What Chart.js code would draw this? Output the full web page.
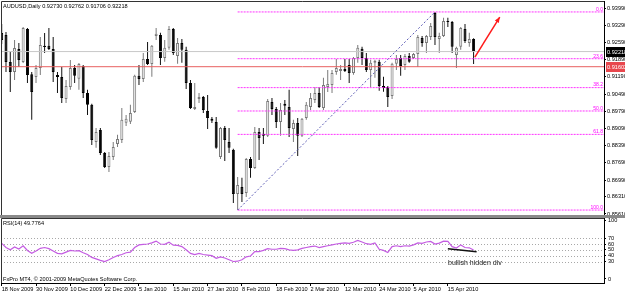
<!DOCTYPE html>
<html>
<head>
<meta charset="utf-8">
<script src="https://cdn.jsdelivr.net/npm/chart.js@4.4.0/dist/chart.umd.min.js"></script>
<style>
  body { margin: 0; background: #fff; width: 625px; height: 292px; overflow: hidden; position: relative; }
  canvas { position: absolute; left: 0; }
  #price { top: 0; }
  #sep { position: absolute; left: 0; top: 215px; width: 625px; height: 3px; background: #8a8a8a; }
  #rsi { top: 218px; }
</style>
</head>
<body>
<canvas id="price" width="625" height="215"></canvas>
<div id="sep"></div>
<canvas id="rsi" width="625" height="74"></canvas>
<script>
// daily AUDUSD candles, one per bar (bar 1 = 18 Nov 2009)
const opens  = [.9297,.9289,.9179,.9139,.9232,.9179,.9314,.9130,.9118,.9155, .9245,.9245,.9232,.9126,.9118,.9029,.9078,.9155,.9111,.9163, .9053,.9005,.8854,.8903,.8809,.8752,.8793,.8846,.8862,.8932, .8936,.8976,.9123,.9110,.9192,.9171,.9285,.9289,.9196,.9237, .9314,.9204,.9257,.9229,.9094,.8988,.9029,.9037,.8980,.8948, .8935,.8793,.8911,.8854,.8822,.8642,.8671,.8646,.8785,.8748, .8895,.8887,.8879,.9017,.8988,.8935,.9009,.8996,.8907,.8931, .8879,.8952,.8996,.9025,.9053,.8992,.9078,.9086,.9139,.9143, .9151,.9167,.9135,.9196,.9233,.9196,.9147,.9176,.9180,.9082, .9078,.9041,.9172,.9196,.9167,.9204,.9196,.9212,.9277,.9257, .9281,.9379,.9273,.9285,.9346,.9342,.9208,.9241,.9314,.9257, .9273];
const highs  = [.9334,.9301,.9220,.9269,.9257,.9322,.9318,.9139,.9167,.9281, .9297,.9318,.9281,.9139,.9159,.9106,.9187,.9167,.9175,.9167, .9066,.9009,.8911,.8911,.8813,.8813,.8854,.8883,.8992,.8964, .9005,.9127,.9167,.9216,.9261,.9249,.9318,.9298,.9269,.9326, .9318,.9277,.9273,.9241,.9106,.9094,.9053,.9041,.9045,.8956, .8956,.8915,.8919,.8911,.8826,.8712,.8708,.8789,.8793,.8915, .8911,.8911,.9029,.9033,.8996,.9013,.9025,.9066,.8944,.8952, .8952,.9017,.9053,.9078,.9078,.9115,.9147,.9147,.9192,.9167, .9192,.9192,.9200,.9249,.9241,.9216,.9188,.9188,.9188,.9119, .9082,.9176,.9208,.9208,.9212,.9216,.9216,.9289,.9285,.9289, .9338,.9383,.9298,.9359,.9359,.9346,.9241,.9322,.9334,.9298, .9276];
const lows   = [.9253,.9139,.9057,.9106,.9159,.9175,.9094,.8944,.9094,.9126, .9216,.9228,.9098,.9053,.9013,.9013,.9066,.9094,.9066,.9033, .8964,.8842,.8830,.8801,.8748,.8732,.8781,.8834,.8850,.8919, .8927,.8972,.9086,.9098,.9167,.9119,.9269,.9167,.9180,.9229, .9208,.9172,.9176,.9070,.8988,.8984,.9013,.8972,.8907,.8931, .8826,.8785,.8777,.8809,.8606,.8577,.8610,.8630,.8708,.8744, .8781,.8846,.8874,.8964,.8911,.8879,.8964,.8874,.8854,.8797, .8874,.8944,.8984,.9013,.8992,.8984,.9057,.9053,.9127,.9106, .9139,.9094,.9127,.9176,.9167,.9139,.9078,.9115,.9062,.9058, .8996,.9029,.9147,.9123,.9147,.9176,.9192,.9159,.9241,.9216, .9269,.9249,.9216,.9281,.9322,.9216,.9155,.9229,.9257,.9241, .9171];
const closes = [.9269,.9179,.9139,.9236,.9187,.9318,.9126,.9057,.9155,.9248, .9240,.9232,.9139,.9118,.9033,.9082,.9155,.9123,.9171,.9053, .9005,.8862,.8895,.8809,.8752,.8797,.8834,.8866,.8944,.8948, .8972,.9123,.9110,.9192,.9171,.9245,.9294,.9196,.9237,.9314, .9216,.9257,.9229,.9094,.8992,.8996,.9037,.8984,.8952,.8940, .8830,.8911,.8862,.8830,.8642,.8679,.8642,.8785,.8748,.8895, .8870,.8879,.9021,.8988,.8935,.8984,.9001,.8911,.8931,.8879, .8948,.9005,.9033,.9053,.8996,.9086,.9090,.9135,.9155,.9151, .9143,.9135,.9196,.9237,.9196,.9147,.9176,.9184,.9082,.9074, .9037,.9172,.9192,.9163,.9204,.9180,.9212,.9281,.9257,.9285, .9326,.9281,.9285,.9346,.9342,.9241,.9237,.9318,.9265,.9273, .9222];
const rsiValues = [61,54,50,55,51.5,57,49,44,48,52.6, 54,52,48,44,43,46,49,48,48.5,45, 42,37,34.5,32,30,33,37,40,42,45, 46,54,58.5,59.5,60,62,65,60,59.5,63, 58,57.5,55.5,50,44,42,44,42,41,40, 35.5,38,36,33,30,30.5,33,38,39.5,47, 47,49,52,51,51,52.5,52,50,49,50, 52.5,54,55.5,56.5,54,55.5,57,58.5,60,61, 62,61,63,66,63.5,60.5,59.5,62,51,49, 45.5,55.5,57,55.5,57,56.5,58.5,62,61,63.5, 64.5,60,61.5,65,64.5,55.5,53,58.5,54,53.5, 49.7764];

const dateBars   = [1, 9, 17, 25, 33, 41, 49, 57, 65, 73, 81, 89, 97, 105];
const dateLabels = ['18 Nov 2009','30 Nov 2009','10 Dec 2009','22 Dec 2009','5 Jan 2010','15 Jan 2010','27 Jan 2010','8 Feb 2010','18 Feb 2010','2 Mar 2010','12 Mar 2010','24 Mar 2010','5 Apr 2010','15 Apr 2010'];
const priceTicks = [0.93990,0.93290,0.92590,0.91890,0.91190,0.90490,0.89790,0.89090,0.88390,0.87690,0.86990,0.86310,0.85610];
const rsiTicks = [100, 70, 60, 50, 40, 30, 0];
const rsiLevels = [70, 60, 50, 40, 30];

const title = 'AUDUSD,Daily 0.92730 0.92762 0.91706 0.92218';
const bidPrice = 0.92218;
const redPrice = 0.91602;
const fibHigh = 0.9383, fibLow = 0.8577, fibFromBar = 56, fibHighBar = 102;
const fibLevels = [0, 23.6, 38.2, 50, 61.8, 100];
const arrowFrom = { x: 111.3, y: 0.9199 }, arrowTo = { x: 117.1, y: 0.9362 };
const divLine = [{ x: 105, y: 52 }, { x: 111.7, y: 46.8 }];

const X_MIN = 0.837, X_MAX = 141.4;
const P_MIN = 0.85569, P_MAX = 0.94275;
const R_MIN = -6.86, R_MAX = 104.6;

const FONT = '"Liberation Sans", Arial, sans-serif';
Chart.defaults.font.family = FONT;
Chart.defaults.font.size = 5.6;
Chart.defaults.color = '#000';

const up = closes.map((c, i) => c >= opens[i]);
const barX = opens.map((_, i) => i + 1);

const zeroPad = (s) => { s.paddingLeft = 0; s.paddingRight = 0; s.paddingTop = 0; s.paddingBottom = 0; };

const fibSets = fibLevels.map(l => {
  const p = fibHigh - (fibHigh - fibLow) * l / 100;
  return {
    type: 'line', data: [{ x: fibFromBar, y: p }, { x: X_MAX, y: p }],
    borderColor: '#ff33ff', borderWidth: 1, borderDash: [2, 1], pointRadius: 0, order: 1
  };
});

const priceDecor = {
  id: 'priceDecor',
  afterDraw(chart) {
    const { ctx, chartArea: a, scales: { x, y } } = chart;
    ctx.save();
    ctx.strokeStyle = '#333';
    ctx.lineWidth = 1;
    ctx.beginPath();
    ctx.moveTo(a.left + 0.5, a.bottom);
    ctx.lineTo(a.left + 0.5, a.top + 0.5);
    ctx.lineTo(a.right, a.top + 0.5);
    ctx.stroke();

    ctx.font = '5.6px ' + FONT;
    ctx.fillStyle = '#000';
    ctx.textBaseline = 'middle';
    ctx.fillText(title, 3, 6);

    // fibo level captions
    ctx.fillStyle = '#ff00ff';
    ctx.font = '5px ' + FONT;
    ctx.textAlign = 'right';
    ctx.textBaseline = 'bottom';
    fibLevels.forEach(l => {
      const p = fibHigh - (fibHigh - fibLow) * l / 100;
      ctx.fillText(l.toFixed(1), a.right - 1, y.getPixelForValue(p));
    });

    // price boxes on the axis
    ctx.font = '5.6px ' + FONT;
    ctx.textAlign = 'left';
    ctx.textBaseline = 'middle';
    [[bidPrice, '#000'], [redPrice, '#e8474d']].forEach(([v, c]) => {
      const py = Math.round(y.getPixelForValue(v));
      ctx.fillStyle = c;
      ctx.fillRect(a.right + 2, py - 5, 19, 10);
      ctx.fillStyle = '#fff';
      ctx.fillText(v.toFixed(5), a.right + 3, py + 0.5);
    });

    // arrow head
    const x0 = x.getPixelForValue(arrowFrom.x), y0 = y.getPixelForValue(arrowFrom.y);
    const x1 = x.getPixelForValue(arrowTo.x), y1 = y.getPixelForValue(arrowTo.y);
    const ang = Math.atan2(y1 - y0, x1 - x0);
    ctx.fillStyle = '#ff1a1a';
    ctx.beginPath();
    ctx.moveTo(x1, y1);
    ctx.lineTo(x1 - 6 * Math.cos(ang - 0.4), y1 - 6 * Math.sin(ang - 0.4));
    ctx.lineTo(x1 - 6 * Math.cos(ang + 0.4), y1 - 6 * Math.sin(ang + 0.4));
    ctx.closePath();
    ctx.fill();
    ctx.restore();
  }
};

new Chart(document.getElementById('price'), {
  type: 'bar',
  data: {
    datasets: [
      {
        label: 'wicks', order: 11, grouped: false, barThickness: 1, inflateAmount: 0,
        data: barX.map((b, i) => ({ x: b, y: [lows[i], highs[i]] })),
        backgroundColor: up.map(u => u ? '#7a7a7a' : '#111')
      },
      {
        label: 'bodies', order: 10, grouped: false, barThickness: 3, inflateAmount: 0,
        minBarLength: 1, borderWidth: 1, borderSkipped: false,
        data: barX.map((b, i) => ({ x: b, y: [opens[i], closes[i]] })),
        backgroundColor: up.map(u => u ? '#f4f4f4' : '#000'),
        borderColor: up.map(u => u ? '#7a7a7a' : '#000')
      },
      {
        type: 'line', order: 2, pointRadius: 0, borderWidth: 1, borderColor: '#c8c8c8',
        data: [{ x: X_MIN, y: bidPrice }, { x: X_MAX, y: bidPrice }]
      },
      {
        type: 'line', order: 2, pointRadius: 0, borderWidth: 1, borderColor: '#e86060',
        data: [{ x: X_MIN, y: redPrice }, { x: X_MAX, y: redPrice }]
      },
      {
        type: 'line', order: 1, pointRadius: 0, borderWidth: 1, borderColor: '#5a5ab4', borderDash: [2, 2],
        data: [{ x: fibFromBar, y: fibLow }, { x: fibHighBar, y: fibHigh }]
      },
      ...fibSets,
      {
        type: 'line', order: 0, pointRadius: 0, borderWidth: 1.5, borderColor: '#ff1a1a',
        data: [arrowFrom, arrowTo]
      }
    ]
  },
  options: {
    responsive: false, animation: false, devicePixelRatio: 1,
    layout: { padding: { top: 1, left: 1, right: 0, bottom: 0 } },
    plugins: { legend: { display: false }, tooltip: { enabled: false } },
    scales: {
      x: { type: 'linear', min: X_MIN, max: X_MAX, offset: false, display: false },
      y: {
        position: 'right', min: P_MIN, max: P_MAX,
        afterBuildTicks: s => { s.ticks = priceTicks.map(v => ({ value: v })); },
        afterFit: s => { s.width = 21; zeroPad(s); },
        ticks: { padding: 1, autoSkip: false, callback: v => v.toFixed(5) },
        grid: { drawOnChartArea: false, tickLength: 2, tickColor: '#000' },
        border: { display: true, color: '#000' }
      }
    }
  },
  plugins: [priceDecor]
});

const rsiDecor = {
  id: 'rsiDecor',
  beforeDatasetsDraw(chart) {
    const { ctx, chartArea: a, scales: { y } } = chart;
    ctx.save();
    ctx.strokeStyle = '#a8a8a8';
    ctx.lineWidth = 1;
    ctx.setLineDash([1, 2]);
    rsiLevels.forEach(v => {
      const py = Math.round(y.getPixelForValue(v)) + 0.5;
      ctx.beginPath();
      ctx.moveTo(a.left, py);
      ctx.lineTo(a.right, py);
      ctx.stroke();
    });
    ctx.restore();
  },
  afterDraw(chart) {
    const { ctx, chartArea: a } = chart;
    ctx.save();
    ctx.strokeStyle = '#333';
    ctx.lineWidth = 1;
    ctx.beginPath();
    ctx.moveTo(a.left + 0.5, a.bottom);
    ctx.lineTo(a.left + 0.5, a.top + 0.5);
    ctx.lineTo(a.right, a.top + 0.5);
    ctx.stroke();
    ctx.font = '5.6px ' + FONT;
    ctx.fillStyle = '#000';
    ctx.textBaseline = 'middle';
    ctx.fillText('RSI(14) 49.7764', 3, 5);
    ctx.fillText('FxPro MT4, \u00a9 2001-2009 MetaQuotes Software Corp.', 3, 61);
    ctx.font = '7px ' + FONT;
    ctx.fillStyle = '#222';
    ctx.fillText('bullish hidden div', 448, 45);
    ctx.restore();
  }
};

new Chart(document.getElementById('rsi'), {
  type: 'line',
  data: {
    datasets: [
      {
        data: rsiValues.map((v, i) => ({ x: barX[i], y: v })),
        borderColor: '#c45ce2', borderWidth: 1.2, pointRadius: 0, tension: 0
      },
      { data: divLine, borderColor: '#111', borderWidth: 1.5, pointRadius: 0 }
    ]
  },
  options: {
    responsive: false, animation: false, devicePixelRatio: 1,
    layout: { padding: { top: 0, left: 1, right: 0, bottom: 0 } },
    plugins: { legend: { display: false }, tooltip: { enabled: false } },
    scales: {
      x: {
        type: 'linear', min: X_MIN, max: X_MAX, offset: false,
        afterBuildTicks: s => { s.ticks = dateBars.map(v => ({ value: v })); },
        afterFit: s => { s.height = 9; zeroPad(s); },
        ticks: {
          align: 'start', padding: 0, autoSkip: false, maxRotation: 0,
          callback: v => dateLabels[dateBars.indexOf(v)]
        },
        grid: { drawOnChartArea: false, tickLength: 3, tickColor: '#000' },
        border: { display: true, color: '#000' }
      },
      y: {
        position: 'right', min: R_MIN, max: R_MAX,
        afterBuildTicks: s => { s.ticks = rsiTicks.map(v => ({ value: v })); },
        afterFit: s => { s.width = 21; zeroPad(s); },
        ticks: { padding: 2, autoSkip: false },
        grid: { drawOnChartArea: false, tickLength: 2, tickColor: '#000' },
        border: { display: true, color: '#000' }
      }
    }
  },
  plugins: [rsiDecor]
});
</script>
</body>
</html>
